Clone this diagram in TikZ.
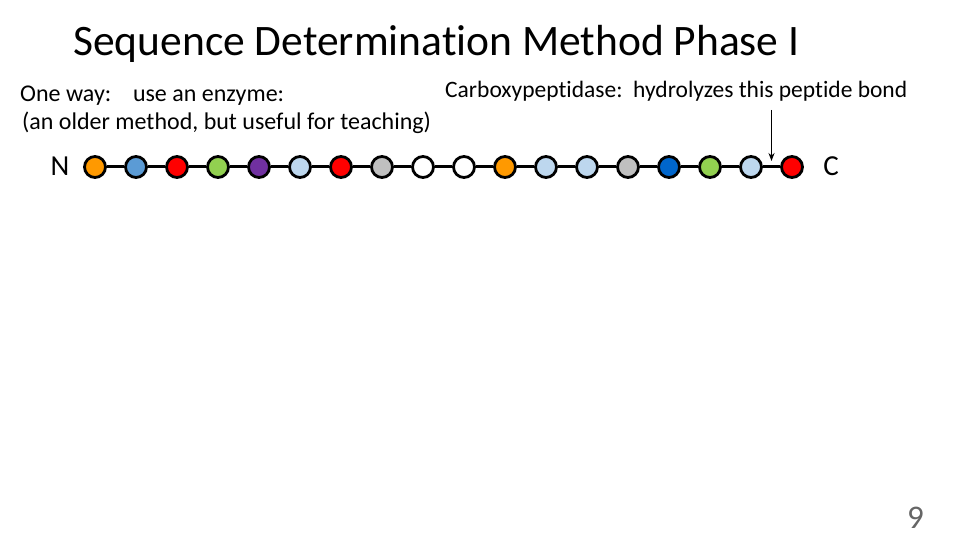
\documentclass[tikz,border=0pt]{standalone}
\usepackage{fontspec}
\setmainfont{Carlito}[Ligatures=NoCommon]
\usetikzlibrary{arrows.meta,calc}
\definecolor{aorange}{HTML}{FF9900}
\definecolor{ablue}{HTML}{5B9BD5}
\definecolor{ared}{HTML}{FF0000}
\definecolor{agreen}{HTML}{92D050}
\definecolor{apurple}{HTML}{7030A0}
\definecolor{alight}{HTML}{BDD7EE}
\definecolor{agray}{HTML}{BFBFBF}
\definecolor{awhite}{HTML}{FFFFFF}
\definecolor{adark}{HTML}{0066CC}
\begin{document}
\begin{tikzpicture}[x=1pt,y=-1pt,
  res/.style={circle,draw=black,line width=2.8pt,minimum size=21pt,inner sep=0pt},
  bond/.style={line width=3pt},
  txt/.style={inner sep=0pt,anchor=base west}]
\useasboundingbox (0,0) rectangle (960,540);
\node[txt,font=\fontsize{43.5}{48}\selectfont] (title) at (73,56) {Sequence Determination Method Phase I};
\node[txt,font=\fontsize{24}{28}\selectfont] (l1) at (20,101.5) {One way:\ \ \ \ use an enzyme:};
\node[txt,font=\fontsize{24}{28}\selectfont] (l2) at (22,130) {(an older method, but useful for teaching)};
\node[txt,font=\fontsize{23.5}{28}\selectfont] (carb) at (445,98) {Carboxypeptidase:\ \ hydrolyzes this peptide bond};
\node[font=\fontsize{29}{32}\selectfont,inner sep=0pt] (N) at (60,166) {N};
\node[font=\fontsize{29}{32}\selectfont,inner sep=0pt] (C) at (831,166) {C};
\foreach \c [count=\i] in {aorange,ablue,ared,agreen,apurple,alight,ared,agray,awhite,awhite,aorange,alight,alight,agray,adark,agreen,alight,ared}{
  \node[res,fill=\c] (r\i) at ({95+41*(\i-1)},167) {};
}
\foreach \i [evaluate=\i as \j using int(\i+1)] in {1,...,17}{
  \draw[bond] (r\i) -- (r\j);
}
\coordinate (bondmid) at ($(r17.east)!0.5!(r18.west)+(0,-6)$);
\coordinate (atop) at (bondmid |- 0,110);
\draw[line width=1.3pt,-{Stealth[length=8pt,width=6pt]}] (atop) -- (bondmid);
\node[txt,font=\fontsize{33}{36}\selectfont,text=black!60] (pg) at (907,528) {9};
\end{tikzpicture}
\end{document}
